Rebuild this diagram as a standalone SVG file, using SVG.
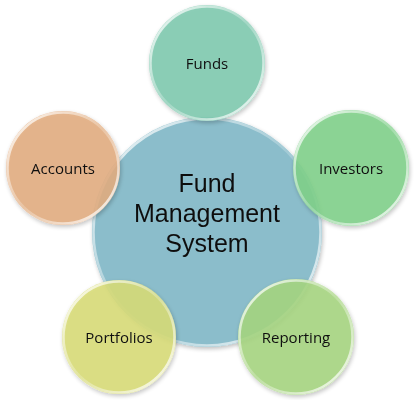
<svg xmlns="http://www.w3.org/2000/svg" width="416" height="400" viewBox="0 0 416 400">
<defs>
<style>
.lbl{font-family:"Open Sans","Liberation Sans",sans-serif;font-size:15px;fill:#111;text-anchor:middle;dominant-baseline:central}
.big{font-family:"Liberation Sans","Open Sans",sans-serif;font-size:25px;fill:#111;text-anchor:middle}
.rim{fill:none;stroke:url(#rimg);stroke-width:2.5}
</style>
<linearGradient id="rimg" x1="0" y1="0" x2="1" y2="1">
<stop offset="0" stop-color="#fff" stop-opacity="0.9"/>
<stop offset="0.5" stop-color="#fff" stop-opacity="0.2"/>
<stop offset="1" stop-color="#fff" stop-opacity="0.9"/>
</linearGradient>
<filter id="sh" x="-20%" y="-20%" width="140%" height="140%">
<feGaussianBlur in="SourceAlpha" stdDeviation="2"/>
<feOffset dx="1" dy="2"/>
<feComponentTransfer><feFuncA type="linear" slope="0.25"/></feComponentTransfer>
<feMerge><feMergeNode/><feMergeNode in="SourceGraphic"/></feMerge>
</filter>
</defs>
<rect width="416" height="400" fill="#fff"/>
<g id="connectors"/>
<g id="center" filter="url(#sh)">
<circle cx="207" cy="232" r="115" fill="#8bbdcb"/>
<circle cx="207" cy="232" r="113.5" class="rim"/>
<text class="big" x="207" y="192">Fund</text>
<text class="big" x="207" y="222">Management</text>
<text class="big" x="207" y="252">System</text>
</g>
<g id="funds" filter="url(#sh)">
<circle cx="207" cy="63" r="58" fill="#7cc9ae" fill-opacity="0.85"/>
<circle cx="207" cy="63" r="56.5" class="rim"/>
<text class="lbl" x="207" y="63">Funds</text>
</g>
<g id="investors" filter="url(#sh)">
<circle cx="351" cy="168" r="58" fill="#80d18a" fill-opacity="0.87"/>
<circle cx="351" cy="168" r="56.5" class="rim"/>
<text class="lbl" x="351" y="168">Investors</text>
</g>
<g id="reporting" filter="url(#sh)">
<circle cx="296" cy="337" r="58" fill="#a6d680" fill-opacity="0.87"/>
<circle cx="296" cy="337" r="56.5" class="rim"/>
<text class="lbl" x="296" y="337">Reporting</text>
</g>
<g id="portfolios" filter="url(#sh)">
<circle cx="119" cy="337" r="57" fill="#d9dc78" fill-opacity="0.87"/>
<circle cx="119" cy="337" r="55.5" class="rim"/>
<text class="lbl" x="119" y="337">Portfolios</text>
</g>
<g id="accounts" filter="url(#sh)">
<circle cx="63" cy="168" r="57" fill="#e3ad80" fill-opacity="0.87"/>
<circle cx="63" cy="168" r="55.5" class="rim"/>
<text class="lbl" x="63" y="168">Accounts</text>
</g>
</svg>
